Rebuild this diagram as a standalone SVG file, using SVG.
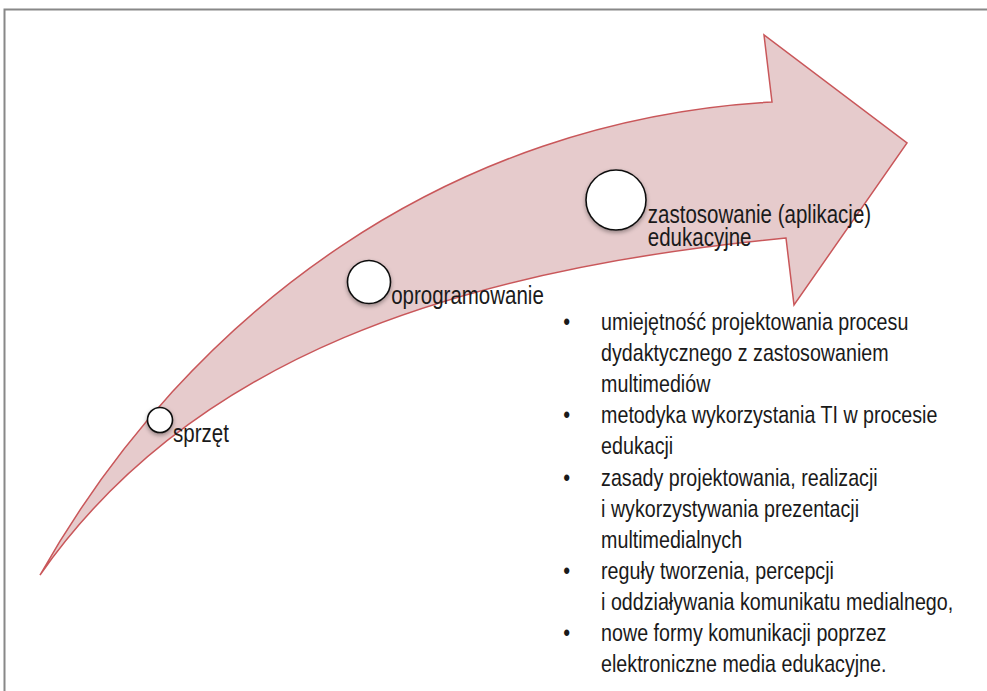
<svg xmlns="http://www.w3.org/2000/svg" width="987" height="691" viewBox="0 0 987 691">
<style>
.lbl{font-family:"Liberation Sans",Arial,sans-serif;font-size:25px;fill:#1a1a1a}
.bt{font-family:"Liberation Sans",Arial,sans-serif;font-size:24px;fill:#1a1a1a}
.dot{fill:#fff;stroke:#111;stroke-width:1.6;filter:url(#sh)}
</style>
<defs>
<filter id="sh" x="-50%" y="-50%" width="200%" height="200%">
<feDropShadow dx="0" dy="2" stdDeviation="2" flood-color="#000" flood-opacity="0.35"/>
</filter>
</defs>
<rect x="0" y="0" width="987" height="691" fill="#fff"/>
<rect x="4.5" y="9.5" width="1000" height="700" fill="none" stroke="#888" stroke-width="2"/>
<g id="arrow">
<path d="M40,575 C190,310 450,120 772,102 L764,35 L907,143 L794,305 L786,238 C450,270 190,360 40,575 Z" fill="#e6cbcc" stroke="#c9575a" stroke-width="1.5" stroke-linejoin="miter"/>
</g>
<g id="node-sprzet">
<circle class="dot" cx="160" cy="420" r="12.5"/>
<text class="lbl" transform="scale(0.82 1)" x="211" y="442">sprzęt</text>
</g>
<g id="node-oprogramowanie">
<circle class="dot" cx="369" cy="282" r="21.5"/>
<text class="lbl" transform="scale(0.82 1)" x="477" y="304">oprogramowanie</text>
</g>
<g id="node-zastosowanie">
<circle class="dot" cx="616" cy="200" r="30"/>
<text class="lbl" transform="scale(0.82 1)" x="790" y="223">zastosowanie (aplikacje)</text>
<text class="lbl" transform="scale(0.82 1)" x="790" y="246">edukacyjne</text>
</g>
<g id="bullets">
<g class="bt" transform="scale(0.82 1)">
<text x="687" y="330">•</text>
<text x="733" y="330">umiejętność projektowania procesu</text>
<text x="733" y="361">dydaktycznego z zastosowaniem</text>
<text x="733" y="392">multimediów</text>
<text x="687" y="423">•</text>
<text x="733" y="423">metodyka wykorzystania TI w procesie</text>
<text x="733" y="454">edukacji</text>
<text x="687" y="486">•</text>
<text x="733" y="486">zasady projektowania, realizacji</text>
<text x="733" y="517">i wykorzystywania prezentacji</text>
<text x="733" y="548">multimedialnych</text>
<text x="687" y="579">•</text>
<text x="733" y="579">reguły tworzenia, percepcji</text>
<text x="733" y="610">i oddziaływania komunikatu medialnego,</text>
<text x="687" y="641">•</text>
<text x="733" y="641">nowe formy komunikacji poprzez</text>
<text x="733" y="672">elektroniczne media edukacyjne.</text>
</g>
</g>
</svg>
